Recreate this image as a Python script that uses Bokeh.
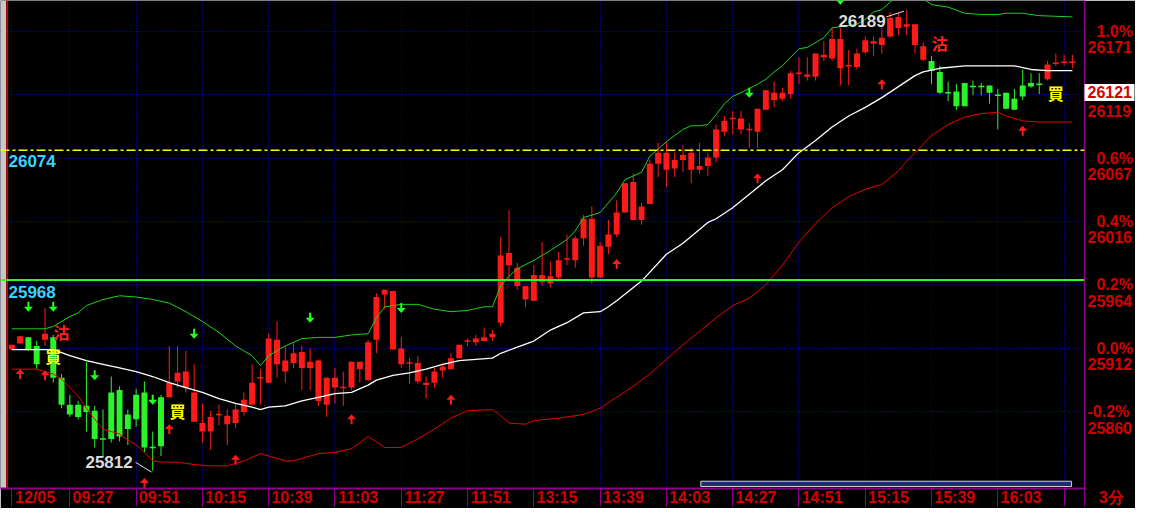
import numpy as np
from bokeh.plotting import figure
from bokeh.models import Range1d, FixedTicker, Span
from bokeh.core.properties import value
from bokeh.embed import file_html
from bokeh.resources import INLINE

# ---------------- data (3-minute bars, 12/05) ----------------
base_price = 25912

opens = [25911, 25916, 25921, 25914, 25919, 25921, 25888, 25866, 25866, 25865,
         25861, 25839, 25876, 25878, 25858, 25874, 25876, 25832, 25872, 25872,
         25885, 25880, 25852, 25844, 25844, 25857, 25850, 25851, 25860, 25866,
         25887, 25884, 25899, 25893, 25900, 25896, 25896, 25869, 25866, 25880,
         25879, 25880, 25895, 25886, 25919, 25956, 25911, 25899, 25899, 25885,
         25882, 25884, 25894, 25895, 25904, 25917, 25917, 25918, 25921, 25933,
         25980, 25963, 25952, 25951, 25966, 25965, 25970, 25984, 25984, 26002,
         25970, 25970, 25995, 26005, 26023, 26017, 26017, 26030, 26063, 26058,
         26059, 26066, 26058, 26058, 26061, 26068, 26089, 26099, 26091, 26090,
         26089, 26107, 26115, 26116, 26120, 26136, 26134, 26134, 26150, 26149,
         26141, 26142, 26142, 26154, 26161, 26160, 26167, 26174, 26175, 26160,
         26148, 26147, 26138, 26122, 26122, 26129, 26127, 26127, 26127, 26120,
         26121, 26116, 26127, 26129, 26129, 26132, 26144, 26145, 26145]
highs = [25915, 25922, 25921, 25918, 25945, 25923, 25891, 25874, 25869, 25901,
         25865, 25862, 25889, 25881, 25862, 25879, 25885, 25844, 25874, 25914,
         25914, 25910, 25899, 25867, 25861, 25866, 25862, 25867, 25876, 25899,
         25895, 25924, 25934, 25914, 25917, 25914, 25912, 25903, 25888, 25896,
         25893, 25901, 25901, 25919, 25957, 25960, 25959, 25921, 25904, 25906,
         25889, 25896, 25900, 25908, 25915, 25920, 25923, 25929, 25927, 26003,
         26025, 25982, 25963, 25980, 25999, 25983, 25991, 26005, 26004, 26021,
         26028, 25999, 26017, 26033, 26047, 26055, 26031, 26066, 26080, 26081,
         26072, 26078, 26076, 26080, 26072, 26095, 26102, 26106, 26106, 26096,
         26108, 26123, 26130, 26125, 26139, 26150, 26150, 26153, 26163, 26174,
         26174, 26156, 26157, 26167, 26167, 26174, 26187, 26186, 26189, 26177,
         26162, 26151, 26143, 26130, 26128, 26129, 26131, 26129, 26127, 26124,
         26121, 26124, 26140, 26137, 26137, 26147, 26153, 26152, 26152]
lows = [25911, 25916, 25910, 25895, 25914, 25884, 25863, 25856, 25854, 25844,
        25831, 25823, 25835, 25836, 25833, 25848, 25827, 25812, 25824, 25872,
        25880, 25876, 25852, 25835, 25829, 25849, 25833, 25847, 25857, 25866,
        25866, 25884, 25888, 25884, 25896, 25878, 25878, 25865, 25856, 25867,
        25865, 25878, 25884, 25886, 25908, 25944, 25911, 25896, 25883, 25883,
        25871, 25880, 25888, 25895, 25904, 25914, 25914, 25918, 25918, 25930,
        25967, 25960, 25946, 25951, 25963, 25962, 25967, 25980, 25978, 25996,
        25965, 25970, 25989, 26003, 26023, 26017, 26013, 26030, 26052, 26044,
        26052, 26056, 26047, 26055, 26053, 26064, 26086, 26087, 26087, 26076,
        26076, 26107, 26109, 26114, 26116, 26128, 26131, 26131, 26147, 26147,
        26127, 26127, 26140, 26153, 26151, 26153, 26166, 26168, 26168, 26153,
        26147, 26128, 26120, 26114, 26107, 26110, 26119, 26119, 26112, 26091,
        26108, 26107, 26115, 26125, 26120, 26131, 26143, 26143, 26141]
closes = [25915, 25922, 25911, 25899, 25924, 25888, 25866, 25858, 25856, 25860,
          25838, 25838, 25838, 25840, 25846, 25854, 25831, 25831, 25832, 25884,
          25892, 25893, 25876, 25851, 25856, 25858, 25857, 25862, 25870, 25884,
          25888, 25920, 25919, 25902, 25908, 25909, 25901, 25902, 25888, 25888,
          25880, 25901, 25901, 25917, 25954, 25960, 25959, 25912, 25900, 25900,
          25884, 25893, 25897, 25904, 25915, 25918, 25920, 25921, 25924, 25988,
          25990, 25978, 25963, 25972, 25972, 25971, 25984, 25985, 26002, 26018,
          26018, 25996, 26005, 26023, 26047, 26048, 26028, 26063, 26072, 26072,
          26066, 26070, 26072, 26061, 26068, 26091, 26098, 26100, 26100, 26091,
          26108, 26123, 26121, 26121, 26137, 26137, 26136, 26153, 26152, 26165,
          26165, 26143, 26153, 26164, 26163, 26166, 26182, 26183, 26177, 26177,
          26159, 26139, 26121, 26121, 26110, 26110, 26126, 26126, 26121, 26119,
          26108, 26107, 26118, 26126, 26128, 26144, 26145, 26146, 26146]

axis_times = ["12/05", "09:27", "09:51", "10:15", "10:39", "11:03", "11:27", "11:51",
              "13:15", "13:39", "14:03", "14:27", "14:51", "15:15", "15:39", "16:03"]
axis_bars = [0, 7, 15, 23, 31, 39, 47, 55, 63, 71, 79, 87, 95, 103, 111, 119]
extra_grid_bars = [127]
timeframe_text = "3分"

upper_x = [0, 4, 5, 7, 8, 9, 11, 13, 15, 17, 19, 21, 23, 25, 27, 29, 30, 31, 33, 35,
           37, 39, 41, 43, 44, 45, 47, 49, 51, 53, 55, 57, 58, 59, 60, 61, 63, 65, 67, 68,
           69, 71, 72, 73, 74, 75, 76, 77, 78, 79, 80, 81, 82, 83, 84, 85, 86, 87, 88, 90,
           91, 92, 93, 95, 96, 98, 99, 100, 102, 103, 104, 105, 106, 107, 108, 109, 110, 111, 113, 115,
           117, 119, 120, 122, 124, 128]
upper_v = [25928, 25928, 25930, 25938, 25941, 25947, 25952, 25955, 25954, 25952,
           25949, 25942, 25934, 25925, 25914, 25906, 25898, 25906, 25914, 25920,
           25921, 25921, 25923, 25924, 25937, 25946, 25948, 25948, 25944, 25942,
           25943, 25946, 25946, 25963, 25971, 25977, 25984, 25992, 26001, 26008,
           26019, 26023, 26031, 26039, 26050, 26053, 26056, 26069, 26075, 26081,
           26086, 26091, 26094, 26094, 26095, 26103, 26112, 26118, 26121, 26128,
           26132, 26138, 26143, 26157, 26158, 26166, 26174, 26175, 26177, 26181,
           26187, 26189, 26195, 26201, 26204, 26203, 26198, 26193, 26191, 26186,
           26185, 26185, 26186, 26186, 26184, 26183]

ma_x = [0, 5, 7, 9, 11, 13, 15, 17, 19, 21, 23, 25, 27, 29, 30, 31, 33, 35, 37, 39,
        41, 43, 44, 46, 48, 50, 52, 54, 56, 58, 59, 61, 63, 65, 67, 69, 71, 72, 73, 76,
        79, 81, 84, 85, 87, 89, 91, 93, 95, 97, 99, 101, 103, 105, 107, 109, 110, 112, 115, 119,
        121, 123, 125, 128]
ma_v = [25911, 25911, 25906, 25902, 25899, 25896, 25893, 25889, 25884, 25880,
        25876, 25871, 25867, 25864, 25862, 25864, 25865, 25869, 25872, 25875,
        25876, 25882, 25886, 25890, 25892, 25895, 25899, 25902, 25903, 25904,
        25908, 25913, 25918, 25927, 25933, 25941, 25942, 25946, 25951, 25967,
        25989, 25998, 26015, 26018, 26027, 26038, 26049, 26058, 26072, 26082,
        26093, 26102, 26109, 26117, 26126, 26135, 26138, 26141, 26143, 26143,
        26143, 26140, 26139, 26139]

lower_x = [0, 3, 4, 5, 6, 7, 8, 9, 10, 11, 12, 13, 14, 15, 16, 17, 18, 20, 22, 24,
           26, 28, 30, 31, 33, 34, 36, 37, 39, 41, 43, 45, 47, 49, 51, 53, 55, 58, 59, 60,
           62, 63, 66, 69, 71, 73, 75, 77, 79, 81, 83, 85, 87, 89, 91, 93, 95, 97, 99, 101,
           103, 105, 107, 108, 110, 111, 113, 115, 117, 119, 120, 122, 124, 128]
lower_v = [25895, 25895, 25893, 25891, 25887, 25880, 25873, 25863, 25854, 25846,
           25844, 25842, 25837, 25833, 25827, 25820, 25819, 25819, 25817, 25816,
           25816, 25820, 25826, 25824, 25820, 25820, 25824, 25826, 25827, 25830,
           25840, 25831, 25831, 25838, 25846, 25855, 25861, 25862, 25857, 25851,
           25850, 25853, 25855, 25858, 25863, 25872, 25881, 25891, 25903, 25915,
           25926, 25937, 25947, 25953, 25964, 25980, 25999, 26014, 26027, 26036,
           26042, 26046, 26057, 26065, 26079, 26086, 26095, 26101, 26104, 26105,
           26102, 26098, 26097, 26097]

level_values = [26074, 25968]
level_texts = ["26074", "25968"]

pct_ticks = [1.0, 0.8, 0.6, 0.4, 0.2, 0.0, -0.2]
pct_price_texts = ["26171", "26119", "26067", "26016", "25964", "25912", "25860"]
last_tag = 26121

sell_bars = [6, 112]
sell_vals = [25925, 26162]
buy_bars = [5, 20, 126]
buy_vals = [25906, 25861, 26121]

down_bars = [2, 5, 10, 17, 22, 36, 47, 89, 100]
down_vals = [25946, 25946, 25890, 25870, 25924, 25937, 25945, 26121, 26197]
up_bars = [1, 4, 16, 19, 27, 41, 53, 73, 90, 105, 122]
up_vals = [25891, 25890, 25802, 25846, 25821, 25854, 25870, 25981, 26051, 26128, 26090]

# ---------------- styling / geometry ----------------
RED = "#ff1a1a"
GREEN = "#2bf22b"
AXRED = "#d40000"
PURPLE = "#8a008a"
FONT = "Liberation Sans"
CJK = "Noto Sans CJK TC"

W, H = 1135, 508
X0, X1 = -1.369, 129.46
Y0, Y1 = 25797.45, 26196.4
FW, FH = 1084, 490
dxp = (X1 - X0) / FW     # bars per pixel
dyp = (Y1 - Y0) / FH     # points per pixel

p = figure(width=W, height=H, output_backend="svg", toolbar_location=None,
           x_range=Range1d(X0, X1), y_range=Range1d(Y0, Y1),
           y_axis_location="right",
           min_border_left=0, min_border_top=0, min_border_right=51, min_border_bottom=18,
           background_fill_color="black", border_fill_color="black",
           outline_line_color=None)

# grid
pct_prices = [base_price * (1 + v / 100.0) for v in pct_ticks]
p.xgrid.ticker = FixedTicker(ticks=axis_bars + extra_grid_bars)
p.ygrid.ticker = FixedTicker(ticks=pct_prices)
for g in (p.xgrid, p.ygrid):
    g.grid_line_color = "#0000e6"
    g.grid_line_dash = "1 2"
    g.grid_line_width = 1

# left window edge
p.quad(left=[X0], right=[X0 + 5.5 * dxp], bottom=[Y0], top=[Y1],
       fill_color="#c8c8c8", line_color=None)
p.segment(x0=[X0 + 6.6 * dxp], y0=[Y0], x1=[X0 + 6.6 * dxp], y1=[Y1],
          line_color="#ff0000", line_width=1.5)

# candles
o = np.array(opens, float); hh = np.array(highs, float)
ll = np.array(lows, float); c = np.array(closes, float)
idx = np.arange(len(o))
cols = np.where(c >= o, RED, GREEN)
p.segment(x0=idx, y0=ll, x1=idx, y1=hh, line_color=list(cols), line_width=1)
body = np.abs(c - o) > 1
p.vbar(x=idx[body], width=0.72, top=np.maximum(o, c)[body], bottom=np.minimum(o, c)[body],
       fill_color=list(cols[body]), line_color=None)
dj = ~body
p.segment(x0=idx[dj] - 0.36, y0=c[dj], x1=idx[dj] + 0.36, y1=c[dj],
          line_color=list(cols[dj]), line_width=1.5)

# bands
p.line(upper_x, upper_v, line_color="#1ed21e", line_width=1)
p.line(lower_x, lower_v, line_color="#e60000", line_width=1)
p.line(ma_x, ma_v, line_color="#ffffff", line_width=1.3)

# level lines
p.add_layout(Span(location=level_values[0], dimension="width", line_color="#ffff00",
                  line_width=1.5, line_dash="9 3 3 3"))
p.add_layout(Span(location=level_values[1], dimension="width", line_color="#22ff22",
                  line_width=2))
p.text(x=[X0, X0], y=level_values, text=level_texts, x_offset=8, y_offset=[11, 12],
       text_color="#3cd2ff", text_font=value(FONT), text_font_style="bold",
       text_font_size="17px", text_align="left", text_baseline="middle")

# arrows
down_shape = [(-1, -5), (1, -5), (1, 0), (4.5, 0), (0, 5), (-4.5, 0), (-1, 0)]
def arrow_polys(bars, vals, shape, flip):
    xs, ys = [], []
    for b, v in zip(bars, vals):
        xs.append([b + sx * dxp for sx, sy in shape])
        ys.append([v - (sy * flip) * dyp for sx, sy in shape])
    return xs, ys
dx_, dy_ = arrow_polys(down_bars, down_vals, down_shape, 1)
p.patches(dx_, dy_, fill_color="#22ff22", line_color=None)
ux_, uy_ = arrow_polys(up_bars, up_vals, down_shape, -1)
p.patches(ux_, uy_, fill_color="#ff1a1a", line_color=None)

# buy / sell marks
p.text(x=sell_bars, y=sell_vals, text=["沽"] * len(sell_bars), text_color="#ff2020",
       text_font=value(CJK), text_font_style="bold", text_font_size="16px",
       text_align="center", text_baseline="middle")
p.text(x=buy_bars, y=buy_vals, text=["買"] * len(buy_bars), text_color="#ffff00",
       text_font=value(CJK), text_font_style="bold", text_font_size="16px",
       text_align="center", text_baseline="middle")

# high / low annotations
hi_i = int(np.argmax(hh)); lo_i = int(np.argmin(ll))
hi_v = hh[hi_i]; lo_v = ll[lo_i]
p.segment(x0=[hi_i - 2.46, lo_i - 2.06], y0=[hi_v - 6, lo_v + 6.8],
          x1=[hi_i - 0.32, lo_i - 0.15], y1=[hi_v - 1.3, lo_v - 1.1],
          line_color="#e0e0e0", line_width=1)
p.text(x=[hi_i, lo_i], y=[hi_v, lo_v], text=[str(int(hi_v)), str(int(lo_v))],
       x_offset=[-21, -20], y_offset=[11, -9], text_color="#dcdcdc",
       text_font=value(FONT), text_font_style="bold", text_font_size="17px",
       text_align="right", text_baseline="middle")

# scroll bar
p.quad(left=[83.15], right=[127.9], bottom=[Y0 + 2.0 * dyp], top=[Y0 + 7.3 * dyp],
       fill_color="#1c2c6c", line_color="#d0d0d0", line_width=1)

# bottom axis (separators as long minor ticks, labels pulled up into the strip)
lab_pos = [b + 2.8 for b in axis_bars]
tf_pos = X1 - 0.001
xa = p.xaxis[0]
xa.ticker = FixedTicker(ticks=lab_pos + [tf_pos],
                        minor_ticks=axis_bars + extra_grid_bars + [X1 - 0.02])
ovx = {lp: t for lp, t in zip(lab_pos, axis_times)}
ovx[tf_pos] = "\u2007" * 6 + timeframe_text
xa.major_label_overrides = ovx
xa.major_tick_out = 0
xa.major_tick_in = 0
xa.minor_tick_out = 18
xa.minor_tick_in = 0
xa.minor_tick_line_color = PURPLE
xa.axis_line_color = PURPLE
xa.axis_line_width = 2
xa.major_label_standoff = -18
xa.major_label_text_color = AXRED
xa.major_label_text_font = FONT
xa.major_label_text_font_style = "bold"
xa.major_label_text_font_size = "16px"

# right axis (percent + price labels; last-price tag drawn as a wide white minor tick)
ya = p.yaxis[0]
price_pos = [pp - 13.4 for pp in pct_prices]
ya.ticker = FixedTicker(ticks=pct_prices + price_pos + [last_tag], minor_ticks=[last_tag])
ov = {}
for v, pp, lp, t in zip(pct_ticks, pct_prices, price_pos, pct_price_texts):
    s = ("%.1f%%" % v)
    if not s.startswith("-"):
        s = "\u2007" + s
    ov[pp] = "" if abs(v - 0.8) < 1e-9 else s
    ov[lp] = t
ov[last_tag] = str(last_tag)
ya.major_label_overrides = ov
ya.major_tick_out = 0
ya.major_tick_in = 0
ya.minor_tick_out = 50
ya.minor_tick_in = 0
ya.minor_tick_line_color = "white"
ya.minor_tick_line_width = 17
ya.axis_line_color = PURPLE
ya.axis_line_width = 1.5
ya.major_label_standoff = -47
ya.major_label_text_color = AXRED
ya.major_label_text_font = FONT
ya.major_label_text_font_style = "bold"
ya.major_label_text_font_size = "16px"

open("out.html", "w").write(file_html(p, INLINE))
